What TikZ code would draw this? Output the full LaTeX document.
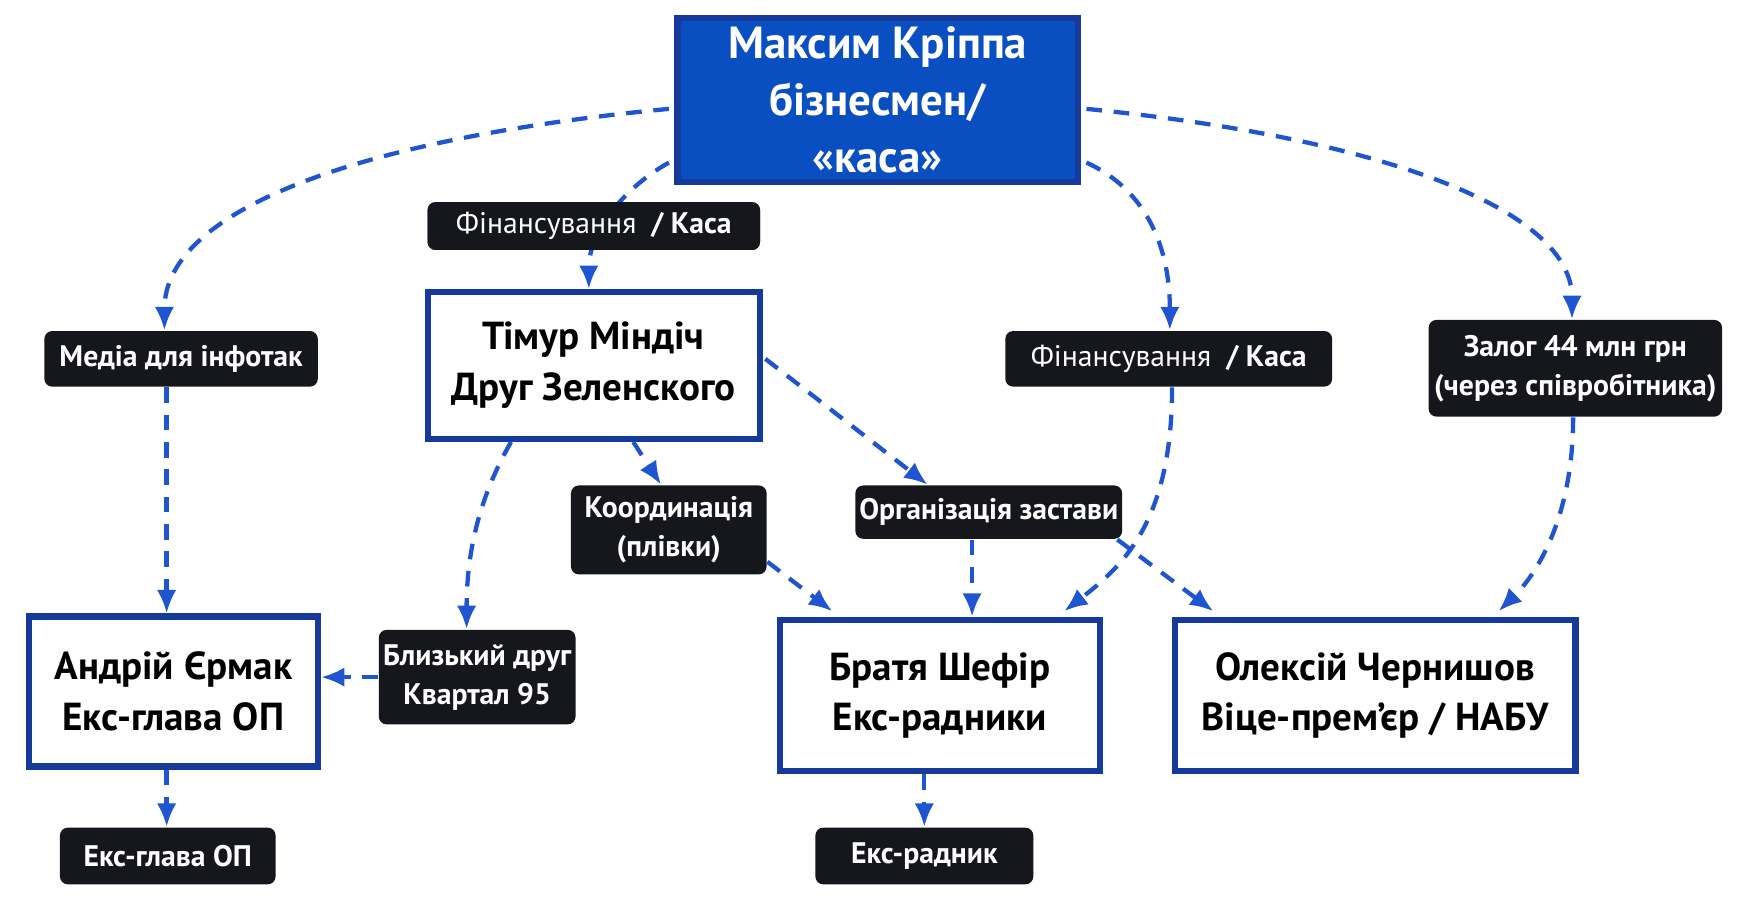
\documentclass[tikz,border=0pt]{standalone}
\usepackage{fontspec}
\setmainfont{PT Sans}
\usetikzlibrary{calc,arrows.meta}
\definecolor{kblue}{HTML}{0A4FC2}
\definecolor{kdark}{HTML}{163A9A}
\definecolor{kline}{HTML}{1F55D0}
\definecolor{klab}{HTML}{15171C}
\begin{document}
\begin{tikzpicture}[x=0.01cm,y=-0.01cm,
 box/.style={draw=kdark,line width=1.6pt,fill=white,font=\bfseries\fontsize{10}{13}\selectfont,align=center,inner sep=0pt},
 lab/.style={fill=klab,rounded corners=2pt,text=white,font=\fontsize{7.6}{10}\selectfont\bfseries,align=center,inner sep=0pt},
 con/.style={draw=kline,line width=1.1pt,dash pattern=on 4pt off 3pt,-{Latex[length=6pt,width=5pt]}}]
\useasboundingbox (0,0) rectangle (1568,813);
\node[box,fill=kblue,text=white,font=\bfseries\fontsize{11.5}{14.5}\selectfont,minimum width=3.6cm,minimum height=1.47cm] (top) at (790,90) {Максим Кріппа\\бізнесмен/\\«каса»};
\node[box,minimum width=2.99cm,minimum height=1.32cm] (tim) at (534.5,329) {Тімур Міндіч\\Друг Зеленского};
\node[box,minimum width=2.6cm,minimum height=1.35cm] (and) at (156,622.5) {Андрій Єрмак\\Екс-глава ОП};
\node[box,minimum width=2.88cm,minimum height=1.36cm] (bra) at (846,626) {Братя Шефір\\Екс-радники};
\node[box,minimum width=3.6cm,minimum height=1.36cm] (ole) at (1238,626) {Олексій Чернишов\\Віце-прем’єр / НАБУ};
% labels
\node[lab,minimum width=2.99cm,minimum height=0.43cm] (f1) at (534.5,203.5) {{\mdseries Фінансування} ~/ Каса};
\node[lab,minimum width=2.46cm,minimum height=0.5cm] (med) at (163,323) {Медіа для інфотак};
\node[lab,minimum width=2.94cm,minimum height=0.5cm] (f2) at (1052,323) {{\mdseries Фінансування} ~/ Каса};
\node[lab,minimum width=2.64cm,minimum height=0.87cm] (zal) at (1418,331.5) {Залог 44 млн грн\\(через співробітника)};
\node[lab,minimum width=1.76cm,minimum height=0.8cm] (koo) at (602,477) {Координація\\(плівки)};
\node[lab,minimum width=2.4cm,minimum height=0.48cm] (org) at (890,461) {Організація застави};
\node[lab,minimum width=1.77cm,minimum height=0.85cm] (bli) at (429.5,609.5) {Близький друг\\Квартал 95};
\node[lab,minimum width=1.94cm,minimum height=0.51cm] (eg) at (151,770.5) {Екс-глава ОП};
\node[lab,minimum width=1.96cm,minimum height=0.51cm] (er) at (832,770.5) {Екс-радник};
% connectors
\begin{scope}[on background layer/.style={}]
\end{scope}
\draw[con] ($(top.west)+(-5,8)$) .. controls (320,125) and (148,190) .. (med.north -| 148,0);
\draw[con] ($(top.south west)+(-5,-20)$) .. controls (560,170) and (530,210) .. (tim.north -| 530,0);
\draw[con] ($(top.east)+(5,8)$) .. controls (1250,125) and (1415,190) .. (zal.north -| 1415,0);
\draw[con] ($(top.south east)+(5,-20)$) .. controls (1030,170) and (1053,220) .. (f2.north -| 1053,0);
\node[lab,minimum width=2.99cm,minimum height=0.43cm] at (f1) {{\mdseries Фінансування} ~/ Каса};
\draw[con] (med.south -| 150,0) -- (and.north -| 150,0);
\draw[con] (tim.south -| 460,0) .. controls (430,450) and (420,500) .. (bli.north -| 420,0);
\draw[con] (tim.south -| 570,0) -- (koo.north -| 595,0);
\draw[con] ($(tim.east)+(2,-6)$) -- (org.north -| 835,0);
\draw[con] (bli.west) -- (and.east |- bli.west);
\draw[con] (and.south -| 150,0) -- (eg.north -| 150,0);
\draw[con] ($(koo.south east)+(0,-12)$) -- ($(bra.north west)+(50,-5)$);
\draw[con] (org.south -| 875,0) -- (bra.north -| 875,0);
\draw[con] (f2.south -| 1055,0) .. controls (1055,470) and (1010,510) .. ($(bra.north east)+(-35,-5)$);
\draw[con] ($(org.south east)+(-5,0)$) -- ($(ole.north west)+(37,-5)$);
\draw[con] (zal.south -| 1416,0) .. controls (1416,470) and (1380,520) .. ($(ole.north east)+(-72,-5)$);
\draw[con] (bra.south -| 832,0) -- (er.north -| 832,0);
\end{tikzpicture}
\end{document}
